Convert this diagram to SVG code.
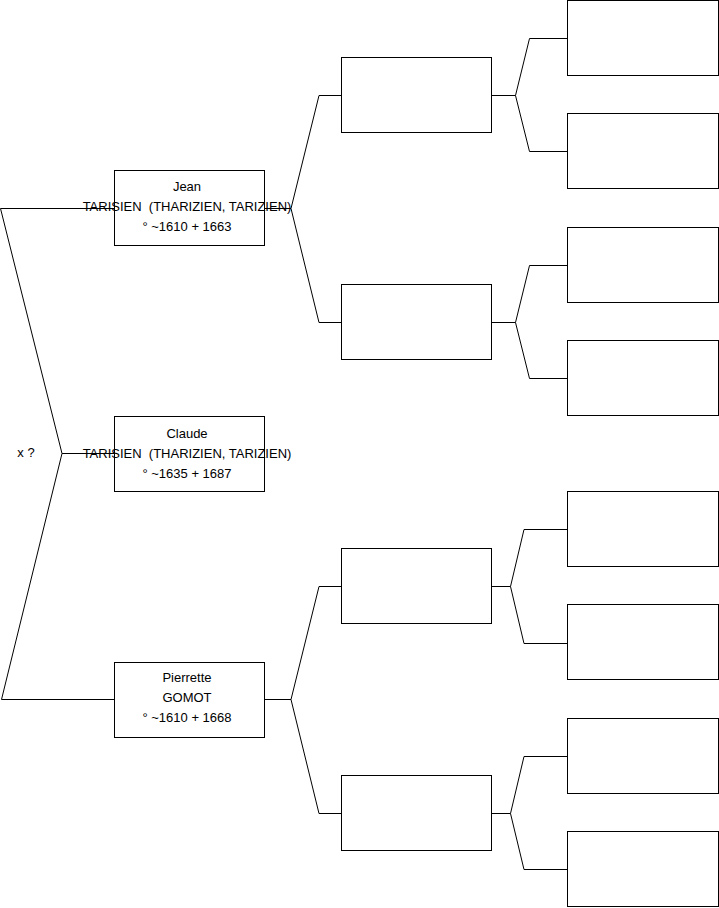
<svg xmlns="http://www.w3.org/2000/svg" width="719" height="908" viewBox="0 0 719 908">
<style>
.b{fill:#fff;stroke:#000;stroke-width:1}
.c{fill:none;stroke:#000;stroke-width:1}
text{font-family:"Liberation Sans",Arial,sans-serif;font-size:13px;fill:#000;text-anchor:middle;white-space:pre}
</style>
<rect width="719" height="908" fill="#fff"/>
<g id="boxes-empty">
<rect id="g2a" class="b" x="341.5" y="57.5" width="150" height="75"/>
<rect id="g2b" class="b" x="341.5" y="284.5" width="150" height="75"/>
<rect id="g2c" class="b" x="341.5" y="548.5" width="150" height="75"/>
<rect id="g2d" class="b" x="341.5" y="775.5" width="150" height="75"/>
<rect id="g3a" class="b" x="567.5" y="0.5" width="151" height="75"/>
<rect id="g3b" class="b" x="567.5" y="113.5" width="151" height="75"/>
<rect id="g3c" class="b" x="567.5" y="227.5" width="151" height="75"/>
<rect id="g3d" class="b" x="567.5" y="340.5" width="151" height="75"/>
<rect id="g3e" class="b" x="567.5" y="491.5" width="151" height="75"/>
<rect id="g3f" class="b" x="567.5" y="604.5" width="151" height="75"/>
<rect id="g3g" class="b" x="567.5" y="718.5" width="151" height="75"/>
<rect id="g3h" class="b" x="567.5" y="831.5" width="151" height="75"/>
</g>
<g id="jean"><rect class="b" x="114.5" y="170.5" width="150" height="75"/></g>
<g id="claude"><rect class="b" x="114.5" y="416.5" width="150" height="75"/></g>
<g id="pierrette"><rect class="b" x="114.5" y="662.5" width="150" height="75"/></g>
<g id="connectors">
<path class="c" d="M114 208.5H0.5L62 453.5H114M62 453.5L1.5 699.5H114"/>
<path class="c" d="M265 208.5H291L319 95.5H341M291 208.5L319 322.5H341"/>
<path class="c" d="M265 699.5H291L319 586.5H341M291 699.5L319 813.5H341"/>
<path class="c" d="M492 95.5H515.5L529.5 38.5H567M515.5 95.5L529.5 151.5H567"/>
<path class="c" d="M492 322.5H515.5L529.5 265.5H567M515.5 322.5L529.5 378.5H567"/>
<path class="c" d="M492 586.5H510.5L524 529.5H567M510.5 586.5L524 643.5H567"/>
<path class="c" d="M492 813.5H510.5L524 756.5H567M510.5 813.5L524 869.5H567"/>
</g>
<g id="labels" xml:space="preserve">
<text x="187" y="191">Jean</text>
<text x="187" y="211">TARISIEN  (THARIZIEN, TARIZIEN)</text>
<text x="187" y="231">° ~1610 + 1663</text>
<text x="187" y="438">Claude</text>
<text x="187" y="458">TARISIEN  (THARIZIEN, TARIZIEN)</text>
<text x="187" y="478">° ~1635 + 1687</text>
<text x="187" y="682">Pierrette</text>
<text x="187" y="702">GOMOT</text>
<text x="187" y="722">° ~1610 + 1668</text>
<text x="26" y="457">x ?</text>
</g>
</svg>
